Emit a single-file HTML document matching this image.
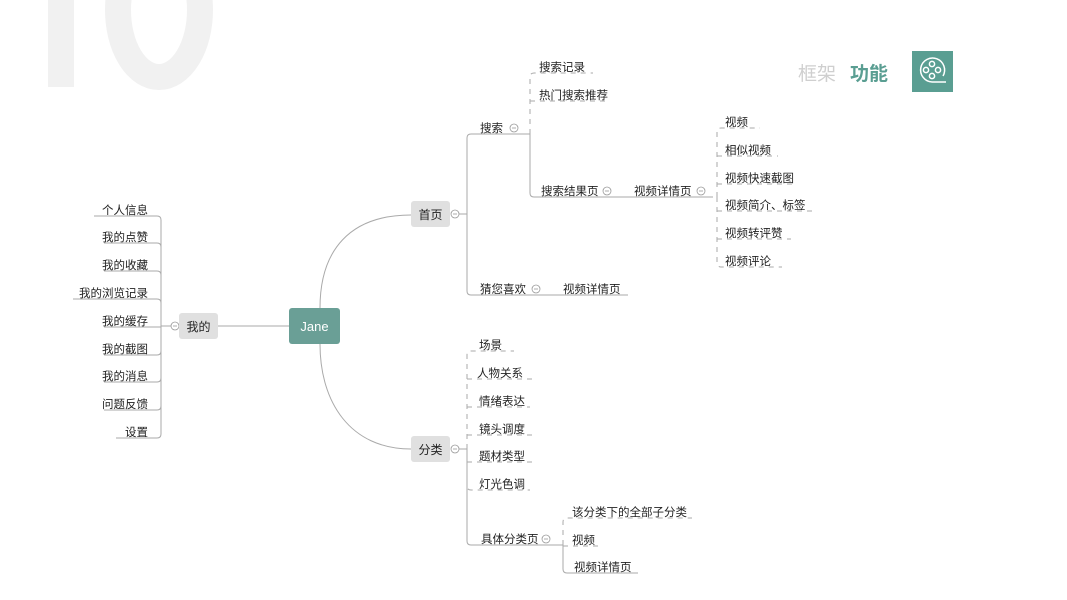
<!DOCTYPE html>
<html><head><meta charset="utf-8"><style>
html,body{margin:0;padding:0;background:#fff;}
svg{display:block;}
text{font-family:"Liberation Sans","Noto Sans CJK SC",sans-serif;}
</style></head><body>
<svg width="1067" height="600" viewBox="0 0 1067 600" xmlns="http://www.w3.org/2000/svg">
<!-- big 10 -->
<rect x="48" y="-10" width="26" height="97" fill="#f1f1f1"/>
<ellipse cx="159" cy="10" rx="41" ry="67" fill="none" stroke="#f1f1f1" stroke-width="26"/>
<!-- header -->
<text x="798" y="80" font-size="19" fill="#cfcfcf">框架</text>
<text x="850" y="80" font-size="19" fill="#5a9e92" font-weight="bold">功能</text>
<rect x="912" y="51" width="41" height="41" fill="#5a9e92"/>
<g fill="none" stroke="#fff" stroke-width="1.5">
<path d="M932,82 A12,12 0 1 1 943,76 M932,82 L946,82"/>
<circle cx="932" cy="64" r="2.6"/><circle cx="932" cy="76" r="2.6"/>
<circle cx="926" cy="70" r="2.6"/><circle cx="938" cy="70" r="2.6"/>
</g>

<g fill="none" stroke="#aaa" stroke-width="1">
<path d="M320,308 C320,250 350,215 411,215"/>
<path d="M320,344 C320,402 350,449 411,449"/>
<line x1="218" y1="326" x2="289" y2="326"/>
<path d="M171,326 L161,326"/>
<path d="M94,216 L157,216 Q161,216 161,220 L161,434 Q161,438 157,438 L116,438"/>
<path d="M104,243 L157,243 Q161,243 161,247"/>
<path d="M104,271 L157,271 Q161,271 161,275"/>
<path d="M73,299 L157,299 Q161,299 161,303"/>
<path d="M104,327 L161,327"/>
<path d="M104,355 L157,355 Q161,355 161,351"/>
<path d="M104,382 L157,382 Q161,382 161,378"/>
<path d="M104,410 L157,410 Q161,410 161,406"/>
<line x1="459" y1="214" x2="467" y2="214"/>
<path d="M530,134 L471,134 Q467,134 467,138 L467,291 Q467,295 471,295 L628,295"/>
<path d="M530,134 L530,193 Q530,197 534,197 L713,197"/>
<line x1="459" y1="449" x2="467" y2="449"/>
<path d="M467,449 L467,541 Q467,545 471,545 L563,545"/>
<path d="M563,545 L563,569 Q563,573 567,573 L638,573"/>
</g>
<g fill="none" stroke="#aaa" stroke-width="1" stroke-dasharray="5,5">
<path d="M530,134 L530,77 Q530,73 534,73 L593,73"/>
<path d="M530,101 L610,101"/>
<path d="M717,197 L717,132 Q717,128 721,128 L760,128"/>
<path d="M717,197 L717,262 Q717,267 721,267 L782,267"/>
<path d="M717,156 L778,156"/><path d="M717,184 L797,184"/>
<path d="M717,211 L815,211"/><path d="M717,239 L791,239"/>
<path d="M467,449 L467,355 Q467,351 471,351 L514,351"/>
<path d="M467,449 L467,486 Q467,490 471,490 L530,490"/>
<path d="M467,379 L534,379"/><path d="M467,407 L530,407"/>
<path d="M467,435 L535,435"/><path d="M467,462 L535,462"/>
<path d="M563,545 L563,522 Q563,518 567,518 L692,518"/>
<path d="M563,546 L602,546"/>
</g>
<g fill="#fff" stroke="#999" stroke-width="0.8">
<circle cx="175" cy="326" r="4"/><circle cx="455" cy="214" r="4"/><circle cx="455" cy="449" r="4"/>
<circle cx="514" cy="128" r="4"/><circle cx="536" cy="289" r="4"/><circle cx="607" cy="191" r="4"/>
<circle cx="701" cy="191" r="4"/><circle cx="546" cy="539" r="4"/>
</g>
<g stroke="#999" stroke-width="0.8">
<line x1="173" y1="326" x2="177" y2="326"/><line x1="453" y1="214" x2="457" y2="214"/><line x1="453" y1="449" x2="457" y2="449"/>
<line x1="512" y1="128" x2="516" y2="128"/><line x1="534" y1="289" x2="538" y2="289"/><line x1="605" y1="191" x2="609" y2="191"/>
<line x1="699" y1="191" x2="703" y2="191"/><line x1="544" y1="539" x2="548" y2="539"/>
</g>
<rect x="289" y="308" width="51" height="36" rx="3" fill="#6a9f96"/>
<text x="314.5" y="331" font-size="13" fill="#fff" text-anchor="middle">Jane</text>
<rect x="179" y="313" width="39" height="26" rx="3" fill="#e0e0e0"/>
<text x="198.5" y="331" font-size="12" fill="#222" text-anchor="middle">我的</text>
<rect x="411" y="201" width="39" height="26" rx="3" fill="#e0e0e0"/>
<text x="430.5" y="219" font-size="12" fill="#222" text-anchor="middle">首页</text>
<rect x="411" y="436" width="39" height="26" rx="3" fill="#e0e0e0"/>
<text x="430.5" y="454" font-size="12" fill="#222" text-anchor="middle">分类</text>
<g font-size="11.5" fill="#222">
<g text-anchor="end">
<text x="148" y="214">个人信息</text><text x="148" y="241">我的点赞</text><text x="148" y="269">我的收藏</text>
<text x="148" y="297">我的浏览记录</text><text x="148" y="325">我的缓存</text><text x="148" y="353">我的截图</text>
<text x="148" y="380">我的消息</text><text x="148" y="408">问题反馈</text><text x="148" y="436">设置</text>
</g>
<text x="480" y="132">搜索</text><text x="480" y="293">猜您喜欢</text><text x="563" y="293">视频详情页</text>
<text x="539" y="71">搜索记录</text><text x="539" y="99">热门搜索推荐</text>
<text x="541" y="195">搜索结果页</text><text x="634" y="195">视频详情页</text>
<text x="725" y="126">视频</text><text x="725" y="154">相似视频</text><text x="725" y="182">视频快速截图</text>
<text x="725" y="209">视频简介、标签</text><text x="725" y="237">视频转评赞</text><text x="725" y="265">视频评论</text>
<text x="479" y="349">场景</text><text x="477" y="377">人物关系</text><text x="479" y="405">情绪表达</text>
<text x="479" y="433">镜头调度</text><text x="479" y="460">题材类型</text><text x="479" y="488">灯光色调</text>
<text x="481" y="543">具体分类页</text>
<text x="572" y="516">该分类下的全部子分类</text><text x="572" y="544">视频</text><text x="574" y="571">视频详情页</text>
</g>
</svg>
</body></html>
